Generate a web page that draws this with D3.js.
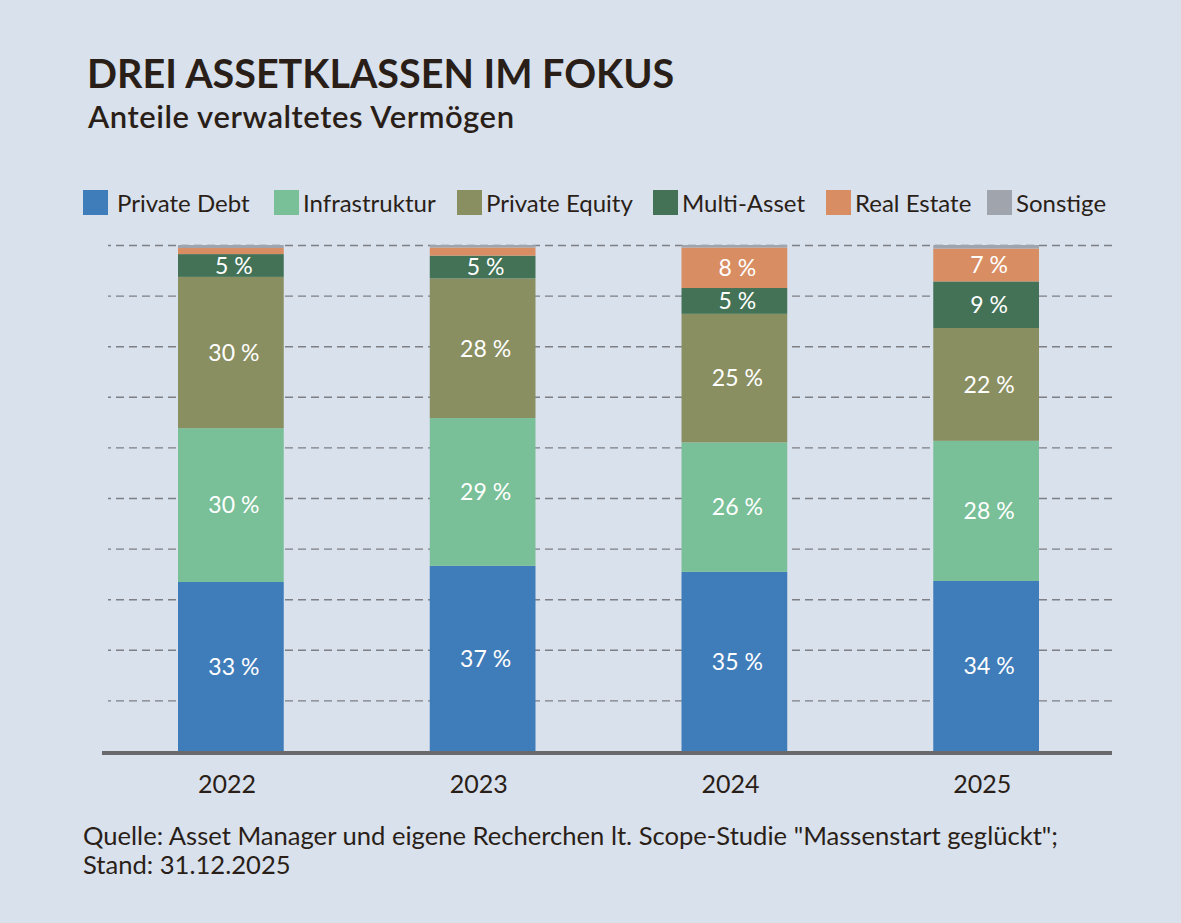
<!DOCTYPE html>
<html>
<head>
<meta charset="utf-8">
<script src="https://cdn.jsdelivr.net/npm/d3@7"></script>
<style>
	html, body { margin: 0; padding: 0; background: #d9e1ed; }
	svg { display: block; font-family: Lato, "Noto Sans", sans-serif; }
</style>
</head>
<body>
<div class="chart"></div>
<script>
var years = ["2022", "2023", "2024", "2025"];

var privateDebt = [33.4, 36.6, 35.4, 33.6],
	infrastruktur = [30.4, 29.2, 25.6, 27.7],
	privateEquity = [29.9, 27.6, 25.4, 22.3],
	multiAsset = [4.5, 4.5, 5.1, 9.2],
	realEstate = [1.2, 1.6, 8.0, 6.5],
	sonstige = [0.6, 0.5, 0.5, 0.7];

var seriesNames = ["Private Debt", "Infrastruktur", "Private Equity", "Multi-Asset", "Real Estate", "Sonstige"];
var gridTicks = [10, 20, 30, 40, 50, 60, 70, 80, 90, 100];

(function() {
	var width = 1181,
		height = 923;

	var colors = ["#3f7cba", "#79bf98", "#8a8f62", "#437256", "#d98d62", "#a0a5ad"];
	var ink = "#2a1f18";

	var allSeries = [privateDebt, infrastruktur, privateEquity, multiAsset, realEstate, sonstige];

	// one row per year, keyed by series name, for d3.stack
	var table = years.map(function(year, i) {
		var row = { year: year };
		seriesNames.forEach(function(name, j) { row[name] = allSeries[j][i]; });
		return row;
	});

	var stacked = d3.stack().keys(seriesNames)(table);

	var x = d3.scaleBand()
		.domain(years)
		.range([105, 1112])
		.paddingInner(0.58)
		.paddingOuter(0.29);

	var y = d3.scaleLinear()
		.domain([0, 100])
		.range([751, 245]);

	var svg = d3.select(".chart").append("svg")
		.attr("width", width)
		.attr("height", height);

	svg.append("rect")
		.attr("width", width)
		.attr("height", height)
		.attr("fill", "#d9e1ed");

	// title block
	svg.append("text")
		.attr("x", 87)
		.attr("y", 88)
		.attr("fill", ink)
		.style("font-size", "39.5px")
		.style("font-weight", "bold")
		.text("DREI ASSETKLASSEN IM FOKUS");

	svg.append("text")
		.attr("x", 88)
		.attr("y", 128)
		.attr("fill", ink)
		.style("font-size", "31px")
		.style("font-weight", "600")
		.style("letter-spacing", "0.55px")
		.text("Anteile verwaltetes Vermögen");

	// legend
	var legendX = [83, 274, 457, 653, 826, 987];
	var legend = svg.selectAll(".legend")
		.data(seriesNames)
		.enter().append("g")
		.attr("class", "legend")
		.attr("transform", function(d, i) { return "translate(" + legendX[i] + ",190)"; });

	legend.append("rect")
		.attr("width", 25)
		.attr("height", 25)
		.attr("fill", function(d, i) { return colors[i]; });

	legend.append("text")
		.attr("x", function(d, i) { return i == 0 ? 34 : 29; })
		.attr("y", 22)
		.attr("fill", ink)
		.style("font-size", "24px")
		.text(function(d) { return d; });

	// dashed grid lines
	svg.append("g")
		.attr("transform", "translate(1112,0)")
		.call(d3.axisLeft(y).tickValues(gridTicks).tickSize(1004).tickFormat(""))
		.call(function(g) {
			g.select(".domain").remove();
			g.selectAll(".tick line")
				.attr("stroke", "#7d7f84")
				.attr("stroke-width", 1.4)
				.attr("stroke-dasharray", "8,5");
		});

	// stacked bars
	var layer = svg.selectAll(".layer")
		.data(stacked)
		.enter().append("g")
		.attr("class", "layer")
		.attr("fill", function(d, i) { return colors[i]; });

	layer.selectAll("rect")
		.data(function(d) { return d; })
		.enter().append("rect")
		.attr("x", function(d) { return x(d.data.year); })
		.attr("y", function(d) { return y(d[1]); })
		.attr("width", x.bandwidth())
		.attr("height", function(d) { return y(d[0]) - y(d[1]); });

	// value labels on the bigger segments
	layer.selectAll("text")
		.data(function(d) { return d.filter(function(s) { return s[1] - s[0] >= 4; }); })
		.enter().append("text")
		.attr("x", function(d) { return x(d.data.year) + x.bandwidth() / 2 + 3; })
		.attr("y", function(d) { return (y(d[0]) + y(d[1])) / 2; })
		.attr("dy", "0.36em")
		.attr("text-anchor", "middle")
		.attr("fill", "#fff")
		.style("font-size", "23px")
		.text(function(d) { return Math.round(d[1] - d[0]) + " %"; });

	// base line and year labels
	svg.append("g")
		.attr("transform", "translate(0,753)")
		.call(d3.axisBottom(x).tickSize(0).tickPadding(22))
		.call(function(g) {
			g.select(".domain")
				.attr("d", "M102,0H1112")
				.attr("stroke", "#6a6a6c")
				.attr("stroke-width", 4);
			g.selectAll(".tick text")
				.attr("fill", ink)
				.attr("dx", "-4")
				.style("font-size", "25px")
				.style("font-family", "Lato, 'Noto Sans', sans-serif");
		});

	// source
	svg.append("text")
		.attr("x", 83)
		.attr("y", 845)
		.attr("fill", ink)
		.style("font-size", "25.6px")
		.text("Quelle: Asset Manager und eigene Recherchen lt. Scope-Studie \"Massenstart geglückt\";");

	svg.append("text")
		.attr("x", 83)
		.attr("y", 874)
		.attr("fill", ink)
		.style("font-size", "25.6px")
		.text("Stand: 31.12.2025");
})();
</script>
</body>
</html>
